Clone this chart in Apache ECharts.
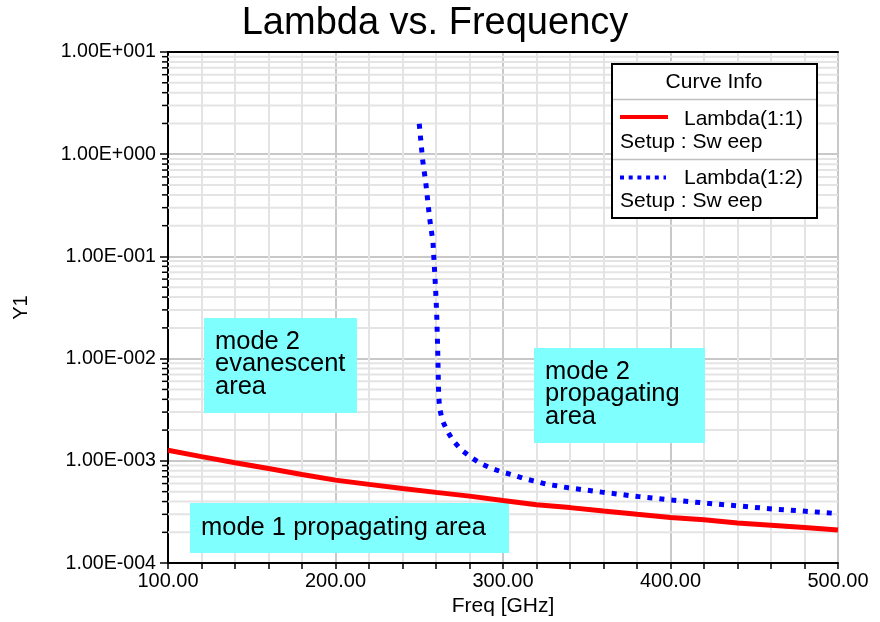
<!DOCTYPE html>
<html>
<head>
<meta charset="utf-8">
<script src="https://cdn.jsdelivr.net/npm/echarts@6/dist/echarts.min.js"></script>
<style>
  html, body { margin: 0; padding: 0; background: #fff; }
  #chart { width: 880px; height: 622px; }
</style>
</head>
<body>
<div id="chart"></div>
<script>
// Lambda(1:1): mode 1 propagation constant over the sweep
const redFreq = [100, 120, 140, 160, 180, 200, 220, 240, 260, 280, 300,
                 320, 340, 360, 380, 400, 420, 440, 460, 480, 500];
const redLambda = [1.27e-3, 1.10e-3, 9.6e-4, 8.43e-4, 7.37e-4, 6.48e-4, 5.89e-4,
                   5.38e-4, 4.92e-4, 4.52e-4, 4.10e-4, 3.72e-4, 3.49e-4, 3.23e-4,
                   3.00e-4, 2.79e-4, 2.66e-4, 2.47e-4, 2.35e-4, 2.23e-4, 2.11e-4];

// Lambda(1:2): mode 2, evanescent below ~261 GHz
const blueFreq = [250.0, 252.0, 253.9, 256.2, 258.2, 259.0, 259.8, 260.4, 261.0,
                  261.6, 262.2, 263.8, 266.7, 270.3, 274.9, 280.3, 286.7, 292.8,
                  299.2, 305.8, 312.7, 319.7, 326.1, 332.1, 339.0, 360.0, 381.0,
                  401.0, 422.0, 442.0, 463.0, 484.0, 500.0];
const blueLambda = [1.99, 0.885, 0.525, 0.236, 0.138, 0.081, 0.047, 0.0277, 0.0125,
                    4.3e-3, 3.25e-3, 2.49e-3, 1.96e-3, 1.57e-3, 1.29e-3, 1.10e-3,
                    9.4e-4, 8.5e-4, 7.8e-4, 7.3e-4, 6.7e-4, 6.3e-4, 5.9e-4, 5.7e-4,
                    5.45e-4, 4.92e-4, 4.47e-4, 4.14e-4, 3.85e-4, 3.61e-4, 3.36e-4,
                    3.19e-4, 3.05e-4];

// Axis ranges and tick labels
const xMin = 100, xMax = 500, xStep = 20;
const yMin = 1e-4, yMax = 10;
const decadeExponents = [-4, -3, -2, -1, 0];
const minorMultipliers = [2, 3, 4, 5, 6, 7, 8, 9];

const FONT = '"Liberation Sans", Arial, sans-serif';

const minorValues = [];
decadeExponents.forEach(e => minorMultipliers.forEach(m => minorValues.push(m * Math.pow(10, e))));

function sciLabel(v) {
  const e = Math.round(Math.log10(v));
  return '1.00E' + (e < 0 ? '-' : '+') + String(Math.abs(e)).padStart(3, '0');
}

function txt(x, y, text, size, z, extra) {
  return Object.assign({
    type: 'text', x: x, y: y, z: z,
    style: Object.assign({ text: text, font: size + 'px ' + FONT, fill: '#000',
                           textVerticalAlign: 'middle' }, extra || {})
  });
}

const chart = echarts.init(document.getElementById('chart'), null, { renderer: 'canvas' });

const option = {
  animation: false,
  backgroundColor: '#ffffff',
  grid: { left: 168, right: 42, top: 52, bottom: 57, containLabel: false },
  xAxis: [{
    type: 'value',
    min: xMin, max: xMax, interval: xStep,
    name: 'Freq [GHz]',
    nameLocation: 'middle',
    nameGap: 30,
    nameTextStyle: { fontFamily: FONT, fontSize: 21, color: '#000' },
    axisLine: { show: true, onZero: false, lineStyle: { color: '#000', width: 2 } },
    axisTick: { show: true, length: 6, lineStyle: { color: '#000', width: 1.5 } },
    axisLabel: {
      fontFamily: FONT, fontSize: 20, color: '#000', margin: 8,
      formatter: v => (v % 100 === 0 ? v.toFixed(2) : '')
    },
    splitLine: {
      show: true,
      lineStyle: { color: ['#c8c8c8', '#e4e4e4', '#e4e4e4', '#e4e4e4', '#e4e4e4'], width: 2 }
    }
  }, {
    type: 'value', position: 'top',
    min: xMin, max: xMax,
    axisLine: { show: true, onZero: false, lineStyle: { color: '#000', width: 2 } },
    axisTick: { show: false }, axisLabel: { show: false }, splitLine: { show: false }
  }],
  yAxis: {
    type: 'log', logBase: 10,
    min: yMin, max: yMax,
    name: 'Y1',
    nameLocation: 'middle',
    nameGap: 137,
    nameTextStyle: { fontFamily: FONT, fontSize: 20, color: '#000' },
    axisLine: { show: true, onZero: false, lineStyle: { color: '#000', width: 2 } },
    axisTick: { show: true, length: 8, lineStyle: { color: '#000', width: 1.5 } },
    axisLabel: { fontFamily: FONT, fontSize: 19.6, color: '#000', margin: 12, formatter: sciLabel },
    splitLine: { show: true, lineStyle: { color: '#c8c8c8', width: 2 } }
  },
  series: [{
    // minor log gridlines and their ticks on the Y1 axis
    type: 'custom',
    silent: true,
    clip: false,
    z: 1,
    data: minorValues.map(v => [xMin, v]),
    encode: { x: 0, y: 1 },
    renderItem: function (params, api) {
      const v = api.value(1);
      const p0 = api.coord([xMin, v]);
      const p1 = api.coord([xMax, v]);
      return {
        type: 'group',
        children: [{
          type: 'line',
          shape: { x1: p0[0], y1: p0[1], x2: p1[0], y2: p1[1] },
          style: { stroke: '#e4e4e4', lineWidth: 2 }
        }, {
          type: 'line',
          shape: { x1: p0[0] - 6, y1: p0[1], x2: p0[0], y2: p0[1] },
          style: { stroke: '#000', lineWidth: 1.5 }
        }]
      };
    }
  }, {
    name: 'Lambda(1:1)',
    type: 'line',
    z: 5,
    showSymbol: false,
    data: redFreq.map((f, i) => [f, redLambda[i]]),
    lineStyle: { color: '#ff0000', width: 5 }
  }, {
    name: 'Lambda(1:2)',
    type: 'line',
    z: 5,
    showSymbol: false,
    data: blueFreq.map((f, i) => [f, blueLambda[i]]),
    lineStyle: { color: '#0000ff', width: 5, type: [5, 7], cap: 'butt' }
  }],
  graphic: [
    // title
    txt(435, 24, 'Lambda vs. Frequency', 38, 20, { textAlign: 'center' }),
    // region annotations
    { type: 'rect', z: 3, shape: { x: 204, y: 318, width: 153, height: 95 }, style: { fill: '#80ffff' } },
    txt(215, 364, 'mode 2\nevanescent\narea', 25.5, 4, { lineHeight: 22.5 }),
    { type: 'rect', z: 3, shape: { x: 534, y: 348, width: 171, height: 95 }, style: { fill: '#80ffff' } },
    txt(545, 394, 'mode 2\npropagating\narea', 25.5, 4, { lineHeight: 22.5 }),
    { type: 'rect', z: 3, shape: { x: 190, y: 503, width: 319, height: 50 }, style: { fill: '#80ffff' } },
    txt(201, 528, 'mode 1 propagating area', 25.5, 4),
    // curve info box
    { type: 'rect', z: 10, shape: { x: 612, y: 64, width: 205, height: 154 },
      style: { fill: '#fff', stroke: '#000', lineWidth: 2 } },
    txt(714, 82, 'Curve Info', 21, 11, { textAlign: 'center' }),
    { type: 'line', z: 11, shape: { x1: 613, y1: 99.5, x2: 816, y2: 99.5 }, style: { stroke: '#c0c0c0', lineWidth: 1.5 } },
    { type: 'line', z: 11, shape: { x1: 613, y1: 159.5, x2: 816, y2: 159.5 }, style: { stroke: '#c0c0c0', lineWidth: 1.5 } },
    { type: 'line', z: 11, shape: { x1: 620, y1: 117, x2: 668, y2: 117 }, style: { stroke: '#ff0000', lineWidth: 4 } },
    txt(684, 119, 'Lambda(1:1)', 21, 11),
    txt(620, 142, 'Setup : Sw eep', 21, 11),
    { type: 'line', z: 11, shape: { x1: 620, y1: 177.5, x2: 666, y2: 177.5 },
      style: { stroke: '#0000ff', lineWidth: 4, lineDash: [4, 4.7] } },
    txt(684, 178, 'Lambda(1:2)', 21, 11),
    txt(620, 201, 'Setup : Sw eep', 21, 11)
  ]
};

chart.setOption(option);
</script>
</body>
</html>
